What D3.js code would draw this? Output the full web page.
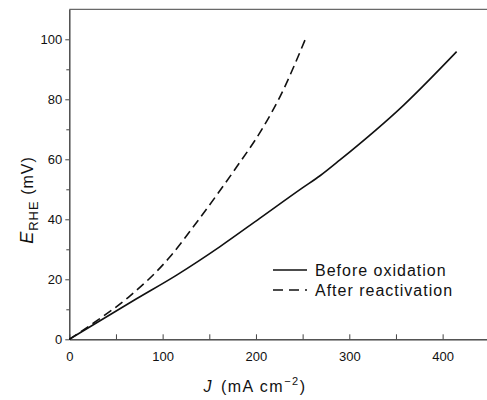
<!DOCTYPE html>
<html>
<head>
<meta charset="utf-8">
<script src="https://cdn.jsdelivr.net/npm/d3@7"></script>
<style>
  body { margin: 0; background: #fff; }
  text { font-family: "Liberation Sans", "DejaVu Sans", sans-serif; fill: #111; }
</style>
</head>
<body>
<svg id="chart" width="487" height="400"></svg>
<script>
// current density J (mA cm-2) and potential E (mV)
const beforeJ = [0, 72, 115, 161.5, 204, 249, 269, 290, 358, 415];
const beforeE = [0, 13.5, 21.4, 30.9, 40.3, 50.3, 54.6, 59.8, 78, 95.9];

const afterJ = [0, 30, 63.3, 107.9, 132.9, 158, 179.4, 206, 225.8, 252.6];
const afterE = [0, 6.3, 14, 27.5, 37.5, 48.1, 57.5, 69.8, 80.9, 99.8];

const xTicks = [0, 100, 200, 300, 400];
const xMinorTicks = [50, 150, 250, 350];
const yTicks = [0, 20, 40, 60, 80, 100];
const yMinorTicks = [10, 30, 50, 70, 90];

const legendLabels = ['Before oxidation', 'After reactivation'];

const svg = d3.select('#chart');

// plot frame in pixels
const left = 69.3, bottom = 339.3;

const x = d3.scaleLinear().domain([0, 450]).range([left, left + 420]);
const y = d3.scaleLinear().domain([0, 110]).range([bottom, bottom - 330]);

const axisColor = '#444';

// x axis, ticks pointing up into the plot
svg.append('g')
    .attr('transform', 'translate(0,' + bottom + ')')
    .call(d3.axisBottom(x).tickValues(xTicks).tickSizeInner(-5).tickSizeOuter(0).tickPadding(12));
svg.append('g')
    .attr('transform', 'translate(0,' + bottom + ')')
    .call(d3.axisBottom(x).tickValues(xMinorTicks).tickSizeInner(-5).tickSizeOuter(0).tickFormat(''));

// y axis, major ticks pointing out
svg.append('g')
    .attr('transform', 'translate(' + left + ',0)')
    .call(d3.axisLeft(y).tickValues(yTicks).tickSizeInner(4).tickSizeOuter(0).tickPadding(3));
svg.append('g')
    .attr('transform', 'translate(' + left + ',0)')
    .call(d3.axisLeft(y).tickValues(yMinorTicks).tickSizeInner(3).tickSizeOuter(0).tickFormat(''));

svg.selectAll('.domain, .tick line').attr('stroke', axisColor).attr('stroke-width', 1);
svg.selectAll('.tick text').style('font-size', '13px');

// top border
svg.append('line')
    .attr('x1', left).attr('x2', x(450))
    .attr('y1', y(110)).attr('y2', y(110))
    .attr('stroke', axisColor);

const line = d3.line()
    .x(function(d) { return x(d[0]); })
    .y(function(d) { return y(d[1]); })
    .curve(d3.curveMonotoneX);

svg.append('path')
    .datum(d3.zip(beforeJ, beforeE))
    .attr('fill', 'none').attr('stroke', '#111').attr('stroke-width', 1.6)
    .attr('d', line);

svg.append('path')
    .datum(d3.zip(afterJ, afterE))
    .attr('fill', 'none').attr('stroke', '#111').attr('stroke-width', 1.6)
    .attr('stroke-dasharray', '9,5')
    .attr('d', line);

// legend
const legend = svg.append('g').attr('transform', 'translate(273,270)');
legendLabels.forEach(function(label, i) {
    legend.append('line')
        .attr('x1', 0).attr('x2', 34)
        .attr('y1', i * 20).attr('y2', i * 20)
        .attr('stroke', '#111').attr('stroke-width', 1.6)
        .attr('stroke-dasharray', i ? '10,6' : null);
    legend.append('text')
        .attr('x', 42).attr('y', i * 20 + 6)
        .style('font-size', '16px')
        .style('letter-spacing', '1px')
        .text(label);
});

// axis titles
const xTitle = svg.append('text')
    .attr('x', 255).attr('y', 392)
    .attr('text-anchor', 'middle')
    .style('font-size', '16px')
    .style('letter-spacing', '1.5px');
xTitle.append('tspan').style('font-style', 'italic').text('J');
xTitle.append('tspan').attr('dx', 8).text('(mA cm');
xTitle.append('tspan').attr('dy', -7).style('font-size', '11px').text('−2');
xTitle.append('tspan').attr('dy', 7).text(')');

const yTitle = svg.append('text')
    .attr('transform', 'translate(33,200) rotate(-90)')
    .attr('text-anchor', 'middle')
    .style('font-size', '16px')
    .style('letter-spacing', '1px');
yTitle.append('tspan').style('font-style', 'italic').style('font-size', '18px').text('E');
yTitle.append('tspan').attr('dy', 5).style('font-size', '13px').text('RHE');
yTitle.append('tspan').attr('dy', -5).text(' (mV)');
</script>
</body>
</html>
